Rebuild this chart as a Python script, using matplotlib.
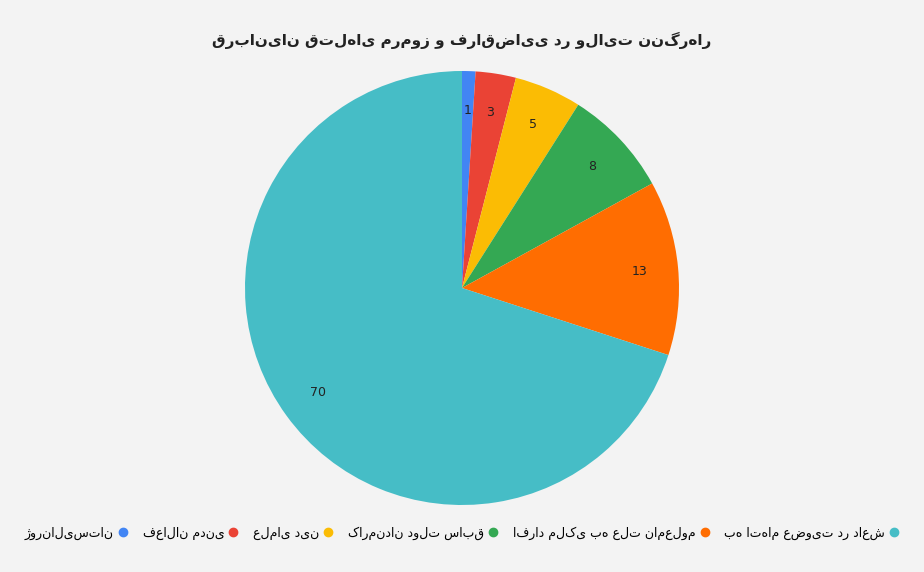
import matplotlib
matplotlib.use("Agg")
import matplotlib.pyplot as plt
from matplotlib.lines import Line2D

# --- data ---
TITLE = "قربانیان قتل\u200cهای مرموز و فراقضایی در ولایت ننگرهار"
LABELS = ["ژورنالیستان", "فعالان مدنی", "علمای دین", "کارمندان دولت سابق",
          "افراد ملکی به علت نامعلوم", "به اتهام عضویت در داعش"]
VALUES = [1, 3, 5, 8, 13, 70]
COLORS = ["#4285F4", "#EA4335", "#FBBC04", "#34A853", "#FF6D01", "#46BDC6"]

plt.rcParams['font.family'] = ['DejaVu Sans']
BG = "#f3f3f3"

fig = plt.figure(figsize=(9.24, 5.72), dpi=100, facecolor=BG)
ax = fig.add_axes([(462 - 217) / 924, 1 - (288 + 217) / 572, 434 / 924, 434 / 572])
ax.set_facecolor(BG)

wedges, texts = ax.pie(VALUES, colors=COLORS, startangle=90, counterclock=False,
                       labels=[str(v) for v in VALUES], labeldistance=0.82,
                       wedgeprops=dict(linewidth=0))
for t in texts:
    t.set_fontsize(9)
    t.set_color("#222222")
    t.set_ha("center")
    t.set_va("center")
ax.set_xlim(-1, 1)
ax.set_ylim(-1, 1)
ax.set_aspect("equal")

fig.text(462 / 924, 1 - 40 / 572, TITLE, ha="center", va="center",
         fontsize=11, fontweight="bold", color="#222222")

handles = [Line2D([], [], marker="o", linestyle="", markersize=6,
                  markerfacecolor=c, markeredgecolor=c) for c in COLORS]
fig.legend(handles, LABELS, loc="center",
           bbox_to_anchor=(462 / 924, 1 - 533 / 572), ncol=6, frameon=False,
           markerfirst=False, fontsize=9, handletextpad=0.3, columnspacing=1.2,
           handlelength=0.8)

fig.savefig("out.png", dpi=100, facecolor=BG)
